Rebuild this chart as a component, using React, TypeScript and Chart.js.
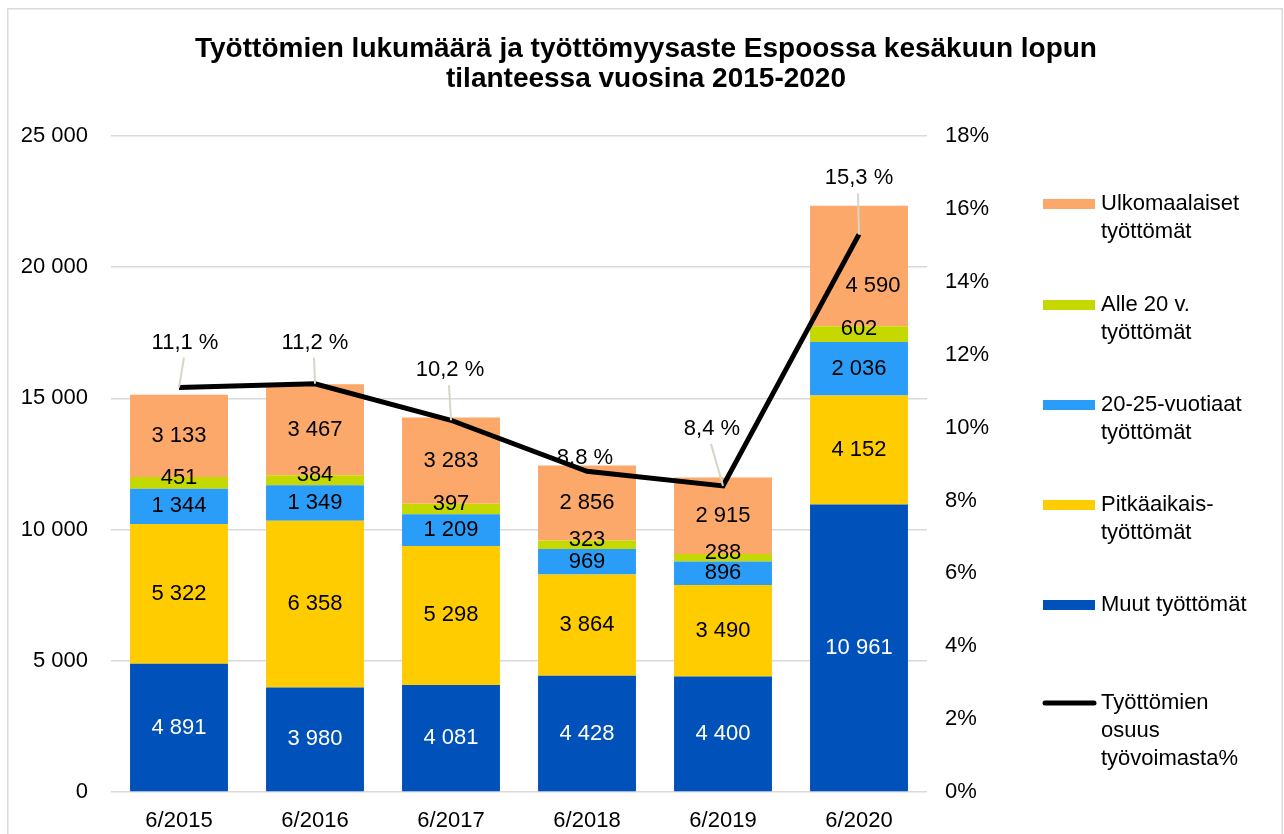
import { useEffect, useRef } from 'react';
import { Chart, registerables } from 'chart.js';

Chart.register(...registerables);

const categories = ['6/2015', '6/2016', '6/2017', '6/2018', '6/2019', '6/2020'];
const muut = [4891, 3980, 4081, 4428, 4400, 10961];
const pitkaaikais = [5322, 6358, 5298, 3864, 3490, 4152];
const nuoret2025 = [1344, 1349, 1209, 969, 896, 2036];
const alle20 = [451, 384, 397, 323, 288, 602];
const ulkomaalaiset = [3133, 3467, 3283, 2856, 2915, 4590];
const osuus = [11.1, 11.2, 10.2, 8.8, 8.4, 15.3];

const barLabels = [
  'Muut työttömät',
  'Pitkäaikais-\ntyöttömät',
  '20-25-vuotiaat\ntyöttömät',
  'Alle 20 v.\ntyöttömät',
  'Ulkomaalaiset\ntyöttömät',
];
const lineLabel = 'Työttömien\nosuus\ntyövoimasta%';
const titleLines = [
  'Työttömien lukumäärä ja työttömyysaste Espoossa kesäkuun lopun',
  'tilanteessa vuosina 2015-2020',
];

// styling
const barColors = ['#0051BA', '#FFCC00', '#2A9DF8', '#C5D800', '#FBA86A'];
const FONT = "'Liberation Sans', Arial, sans-serif";
const pctOffsets: [number, number][] = [[6, -45], [0, -41], [-1, -50], [-2, -13], [-11, -57], [0, -56]];
const seriesLabelDy = [0, 0, 0, -5, 0];
const barLabelOffsets: Record<string, [number, number]> = { '4-5': [14, 20] };

const fmt = (n: number) => String(n).replace(/\B(?=(\d{3})+(?!\d))/g, ' ');

const overlay = {
  id: 'overlay',
  afterDatasetsDraw(chart: any) {
    const ctx = chart.ctx;
    ctx.save();
    ctx.font = `22px ${FONT}`;
    ctx.textAlign = 'center';
    ctx.textBaseline = 'middle';
    for (let i = 0; i < 5; i++) {
      const meta = chart.getDatasetMeta(i);
      const vals = chart.data.datasets[i].data;
      meta.data.forEach((el: any, j: number) => {
        const { x, y, base } = el.getProps(['x', 'y', 'base'], true);
        const off = barLabelOffsets[`${i}-${j}`] || [0, seriesLabelDy[i]];
        ctx.fillStyle = i === 0 ? '#ffffff' : '#000000';
        ctx.fillText(fmt(vals[j]), x + off[0], (y + base) / 2 + off[1]);
      });
    }
    const lm = chart.getDatasetMeta(5);
    const lv = chart.data.datasets[5].data;
    lm.data.forEach((pt: any, j: number) => {
      const [dx, dy] = pctOffsets[j];
      const lx = pt.x + dx;
      const ly = pt.y + dy;
      if (dy < -25) {
        ctx.beginPath();
        ctx.strokeStyle = '#d8d5c6';
        ctx.lineWidth = 2;
        ctx.moveTo(lx - 1, ly + 15);
        ctx.lineTo(pt.x, pt.y);
        ctx.stroke();
      }
      ctx.fillStyle = '#000000';
      ctx.fillText(lv[j].toFixed(1).replace('.', ',') + ' %', lx, ly);
    });
    ctx.restore();
  },
  afterDraw(chart: any) {
    const ctx = chart.ctx;
    ctx.save();
    // frame
    ctx.strokeStyle = '#d9d9d9';
    ctx.lineWidth = 1.5;
    ctx.beginPath();
    ctx.moveTo(0.75, chart.height + 5);
    ctx.lineTo(0.75, 0.75);
    ctx.lineTo(1275.25, 0.75);
    ctx.lineTo(1275.25, chart.height + 5);
    ctx.stroke();
    // title
    ctx.fillStyle = '#000000';
    ctx.font = `bold 28px ${FONT}`;
    ctx.textAlign = 'center';
    ctx.textBaseline = 'middle';
    ctx.fillText(titleLines[0], 639, 41);
    ctx.fillText(titleLines[1], 639, 71);
    // legend
    ctx.font = `22px ${FONT}`;
    ctx.textAlign = 'left';
    const items = [
      { label: barLabels[4], color: barColors[4], line: false },
      { label: barLabels[3], color: barColors[3], line: false },
      { label: barLabels[2], color: barColors[2], line: false },
      { label: barLabels[1], color: barColors[1], line: false },
      { label: barLabels[0], color: barColors[0], line: false },
      { label: lineLabel, color: '#000000', line: true },
    ];
    const ys = [196, 297, 397, 497, 597, 695];
    items.forEach((it, k) => {
      const y = ys[k];
      if (it.line) {
        ctx.beginPath();
        ctx.strokeStyle = it.color;
        ctx.lineWidth = 5;
        ctx.lineCap = 'round';
        ctx.moveTo(1038, y);
        ctx.lineTo(1087, y);
        ctx.stroke();
      } else {
        ctx.fillStyle = it.color;
        ctx.fillRect(1036, y - 5, 52, 10);
      }
      ctx.fillStyle = '#000000';
      it.label.split('\n').forEach((ln, m) => ctx.fillText(ln, 1094, y + m * 28));
    });
    ctx.restore();
  },
};

export default function App() {
  const ref = useRef<HTMLCanvasElement>(null);
  useEffect(() => {
    if (!ref.current) return;
    const datasetsBars = [muut, pitkaaikais, nuoret2025, alle20, ulkomaalaiset].map((d, i) => ({
      type: 'bar' as const,
      label: barLabels[i],
      data: d,
      backgroundColor: barColors[i],
      borderWidth: 0,
      stack: 's',
      yAxisID: 'y',
      order: 1,
      categoryPercentage: 0.8,
      barPercentage: 0.9,
    }));
    const chart = new Chart(ref.current, {
      type: 'bar',
      data: {
        labels: categories,
        datasets: [
          ...datasetsBars,
          {
            type: 'line' as const,
            label: lineLabel,
            data: osuus,
            borderColor: '#000000',
            borderWidth: 5,
            pointRadius: 0,
            tension: 0,
            yAxisID: 'y1',
            order: 0,
          } as any,
        ],
      },
      options: {
        responsive: false,
        animation: false,
        layout: { padding: { top: 128, right: 257, bottom: 0, left: 0 } },
        plugins: { legend: { display: false }, tooltip: { enabled: false }, title: { display: false } },
        scales: {
          x: {
            stacked: true,
            grid: { display: false, drawTicks: false },
            border: { display: false },
            ticks: { font: { family: FONT, size: 22 }, color: '#000000', padding: 16 },
            afterFit: (s: any) => { s.height = 42; },
          },
          y: {
            stacked: true,
            min: 0,
            max: 25000,
            ticks: { stepSize: 5000, callback: (v: any) => fmt(Number(v)), font: { family: FONT, size: 22 }, color: '#000000', padding: 23 },
            grid: { color: '#d9d9d9', lineWidth: 1.5, drawTicks: false },
            border: { display: false },
            afterFit: (s: any) => { s.width = 104; },
          },
          y1: {
            position: 'right',
            min: 0,
            max: 18,
            ticks: { stepSize: 2, callback: (v: any) => `${v}%`, font: { family: FONT, size: 22 }, color: '#000000', padding: 18 },
            grid: { display: false, drawTicks: false },
            border: { display: false },
            afterFit: (s: any) => { s.width = 100; },
          },
        },
      } as any,
      plugins: [overlay],
    });
    return () => chart.destroy();
  }, []);
  return (
    <div style={{ position: 'fixed', left: 7, top: 8, width: 1277, height: 826, overflow: 'hidden' }}>
      <canvas ref={ref} width={1277} height={826} style={{ display: 'block', width: 1277, height: 826 }} />
    </div>
  );
}
